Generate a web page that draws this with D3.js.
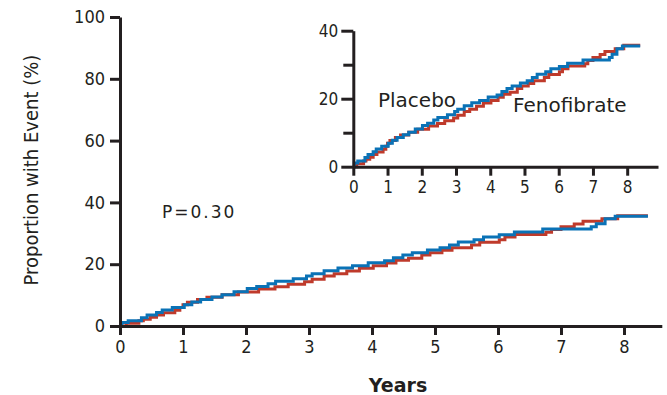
<!DOCTYPE html>
<html>
<head>
<meta charset="utf-8">
<script src="https://cdn.jsdelivr.net/npm/d3@7"></script>
<style>
  body { margin: 0; background: #fff; }
  svg text { font-family: "DejaVu Sans", sans-serif; fill: #231f20; }
</style>
</head>
<body>
<svg id="chart" width="667" height="395"></svg>
<script>
// Kaplan-Meier style step curves: [years, % with event]
const placeboSteps = [
  [0, 0], [0.10, 0.9], [0.30, 1.7], [0.37, 2.2], [0.48, 2.8], [0.58, 3.6], [0.69, 4.3],
  [0.87, 5.1], [0.95, 6.0], [1.00, 6.9], [1.07, 7.7], [1.23, 8.6], [1.38, 9.3], [1.62, 10.1],
  [1.88, 11.0], [2.20, 12.0], [2.46, 12.7], [2.67, 13.5], [2.93, 14.3], [3.05, 15.1],
  [3.24, 16.2], [3.40, 16.9], [3.60, 17.8], [3.80, 18.7], [4.02, 19.5], [4.23, 20.4],
  [4.38, 21.3], [4.58, 21.9], [4.79, 23.0], [4.92, 23.7], [5.11, 24.5], [5.27, 25.3],
  [5.58, 26.2], [5.71, 27.1], [6.02, 27.9], [6.11, 28.8], [6.27, 29.6], [6.76, 30.3],
  [6.85, 31.2], [7.00, 32.1], [7.21, 33.0], [7.35, 33.9], [7.65, 34.7], [7.90, 35.7], [8.38, 35.7]
];
const fenofibrateSteps = [
  [0, 0], [0.03, 1.1], [0.13, 1.7], [0.34, 2.7], [0.43, 3.6], [0.58, 4.4], [0.67, 5.2],
  [0.83, 6.0], [1.02, 6.9], [1.14, 7.8], [1.28, 8.6], [1.46, 9.4], [1.62, 10.1], [1.81, 11.1],
  [2.02, 12.1], [2.17, 12.8], [2.35, 13.7], [2.47, 14.5], [2.75, 15.3], [2.96, 16.2],
  [3.05, 16.9], [3.24, 17.9], [3.46, 18.8], [3.69, 19.5], [3.94, 20.5], [4.20, 21.1],
  [4.34, 22.1], [4.49, 23.0], [4.64, 23.7], [4.88, 24.6], [5.08, 25.3], [5.23, 26.2],
  [5.37, 27.2], [5.62, 27.9], [5.77, 28.8], [6.02, 29.5], [6.26, 30.4], [6.71, 31.4],
  [7.48, 32.1], [7.56, 33.1], [7.70, 34.7], [7.86, 35.5], [8.38, 35.5]
];
const xTicks = [0, 1, 2, 3, 4, 5, 6, 7, 8];
const yTicksMain = [0, 20, 40, 60, 80, 100];
const yTicksInset = [0, 10, 20, 30, 40];
const yLabelsInset = [0, 20, 40];

const RED = "#bf3a2b", BLUE = "#0a72b6", INK = "#231f20";
const svg = d3.select("#chart");

function drawPanel(g, xScale, yScale, yTicks, yLabelFn, lw, fs) {
    const xAxis = d3.axisBottom(xScale).tickValues(xTicks).tickSize(9).tickSizeOuter(0).tickPadding(5);
    const yAxis = d3.axisLeft(yScale).tickValues(yTicks).tickSize(10).tickSizeOuter(0).tickPadding(5).tickFormat(yLabelFn);

    const line = d3.line().curve(d3.curveStepAfter).x(d => xScale(d[0])).y(d => yScale(d[1]));
    g.append("path").datum(placeboSteps).attr("d", line)
        .attr("fill", "none").attr("stroke", RED).attr("stroke-width", lw);
    g.append("path").datum(fenofibrateSteps).attr("d", line)
        .attr("fill", "none").attr("stroke", BLUE).attr("stroke-width", lw);

    const gx = g.append("g").attr("transform", `translate(0,${yScale(0)})`).call(xAxis);
    const gy = g.append("g").attr("transform", `translate(${xScale(0)},0)`).call(yAxis);
    [gx, gy].forEach(a => {
        a.select(".domain").attr("stroke", INK).attr("stroke-width", 3);
        a.selectAll(".tick line").attr("stroke", INK).attr("stroke-width", 3);
        a.selectAll(".tick text").attr("font-size", fs).attr("fill", INK)
            .style("font-family", "'DejaVu Sans Condensed', sans-serif");
    });
    return { gx, gy };
}

// main panel
const xMain = d3.scaleLinear().domain([0, 8.6]).range([120, 661.8]);
const yMain = d3.scaleLinear().domain([0, 100]).range([326, 17]);
const main = svg.append("g");
drawPanel(main, xMain, yMain, yTicksMain, d => d, 3, 18);

main.append("text")
    .attr("transform", `translate(38,170) rotate(-90)`)
    .attr("text-anchor", "middle").attr("font-size", 20)
    .style("font-family", "'DejaVu Sans Condensed', sans-serif")
    .text("Proportion with Event (%)");
main.append("text")
    .attr("x", 398).attr("y", 392)
    .attr("text-anchor", "middle").attr("font-size", 19).attr("font-weight", "bold")
    .text("Years");
main.append("text")
    .attr("x", 162).attr("y", 218).attr("font-size", 17).attr("letter-spacing", 2)
    .text("P=0.30");

// inset panel
const xIn = d3.scaleLinear().domain([0, 8.9]).range([353.3, 658]);
const yIn = d3.scaleLinear().domain([0, 40]).range([166.7, 30.7]);
const inset = svg.append("g");
const insetAxes = drawPanel(inset, xIn, yIn, yTicksInset, d => yLabelsInset.includes(d) ? d : "", 3, 17);
insetAxes.gy.selectAll(".tick line").attr("x2", d => yLabelsInset.includes(d) ? -12 : -10);

inset.append("text").attr("x", 378).attr("y", 107).attr("font-size", 20).text("Placebo");
inset.append("text").attr("x", 513).attr("y", 112).attr("font-size", 20).text("Fenofibrate");
</script>
</body>
</html>
